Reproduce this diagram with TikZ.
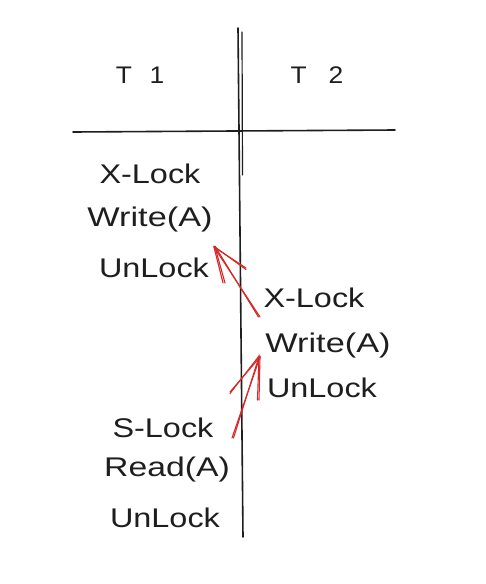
\documentclass[tikz,border=0pt]{standalone}
\usepackage{fontspec}
\setmainfont{Liberation Sans}
\usepackage{graphicx}
\definecolor{ink}{HTML}{1E1E1E}
\definecolor{redink}{HTML}{D62828}
\begin{document}
\begin{tikzpicture}[x=1pt,y=-1pt,
  lbl/.style={anchor=base,inner sep=0pt,text=ink,font=\fontsize{27}{30}\selectfont},
  head/.style={anchor=base,inner sep=0pt,text=ink,font=\fontsize{24}{28}\selectfont},
  rule/.style={draw=ink,line width=1.6pt,line cap=round},
  redarrow/.style={draw=redink,line width=1.1pt,line cap=round}]
\useasboundingbox[fill=white] (0,0) rectangle (486,584);
% table lines
\coordinate (vtop) at (238,28);
\coordinate (vbot) at (243,537);
\coordinate (vtopb) at (242,32);
\coordinate (vmid) at (242.5,175);
\coordinate (hl) at (73,132);
\coordinate (hr) at (395,130);
\draw[rule] (vtop) -- (vbot);
\draw[draw=ink,line width=1.2pt,line cap=round] (vtopb) -- (vmid);
\draw[rule] (hl) -- (hr);
% headers
\node[head] (t1) at (140,83) {\scalebox{1.1}[1]{T\hspace{16pt}1}};
\node[head] (t2) at (317,83) {\scalebox{1.1}[1]{T\hspace{20pt}2}};
% T1 column
\node[lbl] (xl1) at (150,183) {\scalebox{1.2}[1]{X-Lock}};
\node[lbl] (w1) at (150,226) {\scalebox{1.27}[1]{Write(A)}};
\node[lbl] (u1) at (154,277) {\scalebox{1.2}[1]{UnLock}};
% T2 column
\node[lbl] (xl2) at (314,307) {\scalebox{1.2}[1]{X-Lock}};
\node[lbl] (w2) at (328,352) {\scalebox{1.27}[1]{Write(A)}};
\node[lbl] (u2) at (322,397) {\scalebox{1.2}[1]{UnLock}};
% T1 again
\node[lbl] (sl) at (163,437) {\scalebox{1.2}[1]{S-Lock}};
\node[lbl] (r1) at (167,476) {\scalebox{1.25}[1]{Read(A)}};
\node[lbl] (u3) at (165,527) {\scalebox{1.2}[1]{UnLock}};
% arrow 1
\coordinate (a1tail) at (260,317);
\coordinate (a1tip) at (214,247);
\coordinate (a1b1) at (246,268);
\coordinate (a1b2) at (223,283);
\draw[redarrow] (a1tail) -- (a1tip);
\draw[redarrow] ([xshift=-1.5pt]a1tail) -- ([xshift=0.8pt,yshift=1pt]a1tip);
\draw[redarrow] (a1b1) -- (a1tip) -- (a1b2);
\draw[redarrow] ([yshift=-1.5pt]a1b1) -- ([xshift=1pt]a1tip) -- ([xshift=2pt]a1b2);
% arrow 2
\coordinate (a2tail) at (232,438);
\coordinate (a2tip) at (260,357);
\coordinate (a2b1) at (230,392);
\coordinate (a2b2) at (259,400);
\draw[redarrow] (a2tail) -- (a2tip);
\draw[redarrow] ([xshift=1.5pt]a2tail) -- ([xshift=-0.8pt,yshift=1pt]a2tip);
\draw[redarrow] (a2b1) -- (a2tip) -- (a2b2);
\draw[redarrow] ([yshift=-1.5pt]a2b1) -- ([xshift=-1pt,yshift=1pt]a2tip) -- ([xshift=-1.5pt]a2b2);
\end{tikzpicture}
\end{document}
